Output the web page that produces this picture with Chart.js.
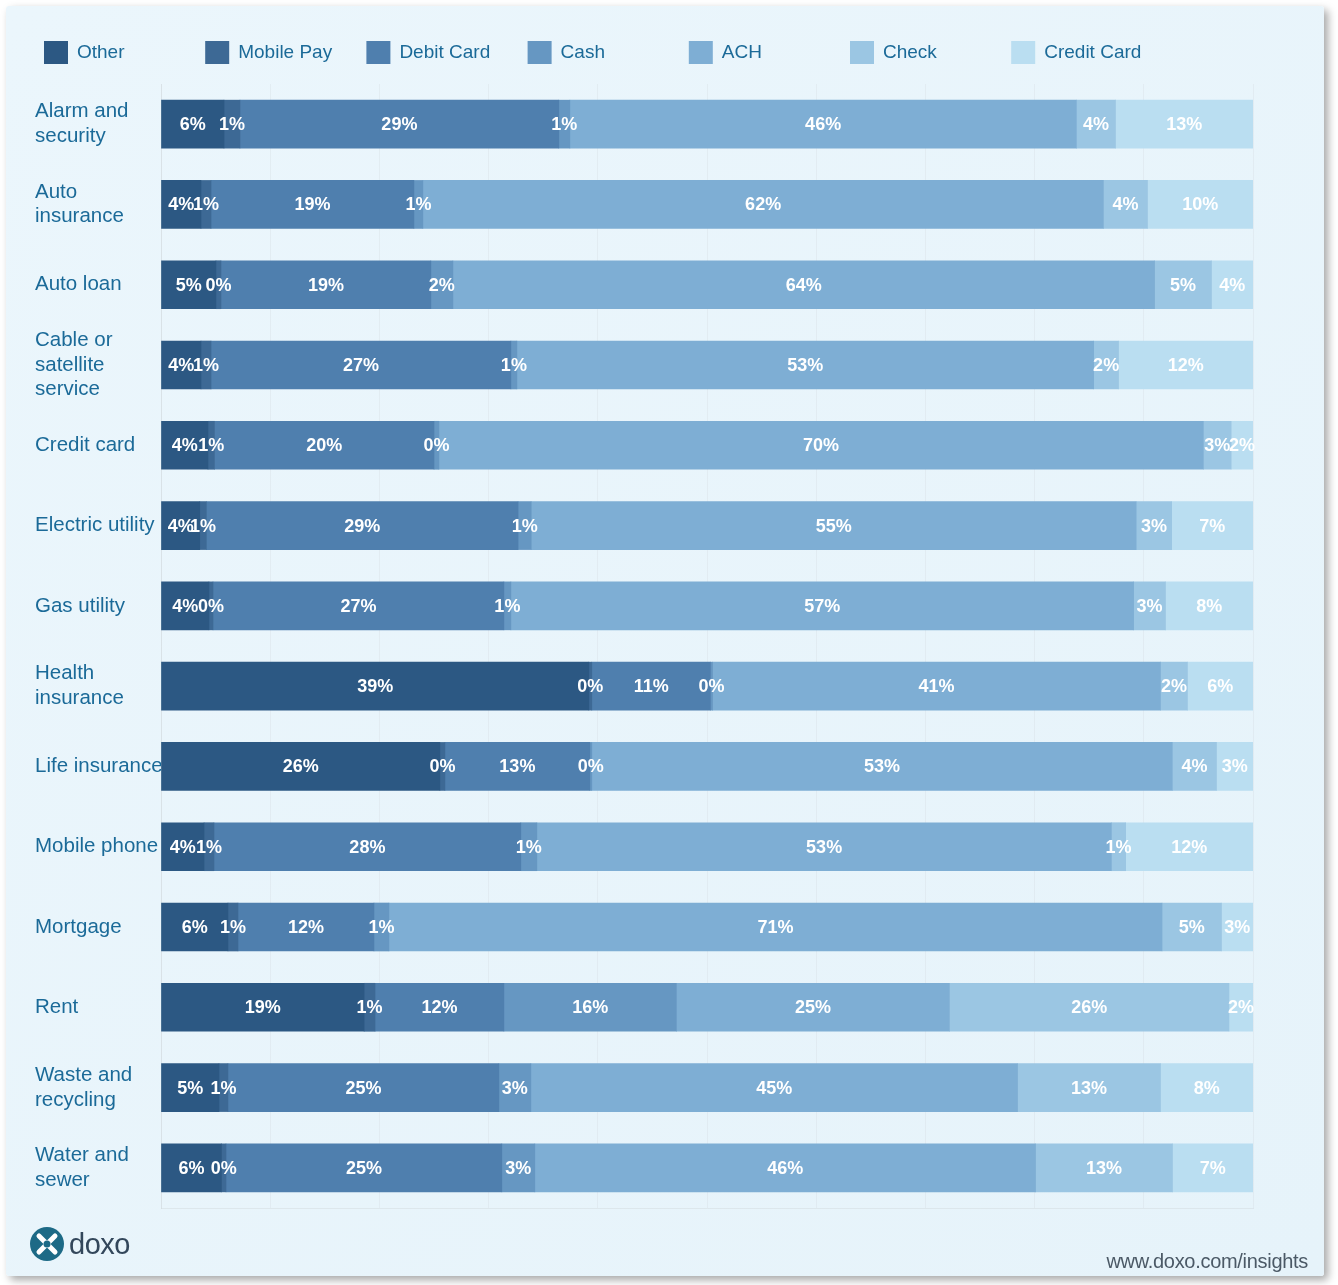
<!DOCTYPE html>
<html>
<head>
<meta charset="utf-8">
<script src="https://cdn.jsdelivr.net/npm/chart.js@4/dist/chart.umd.min.js"></script>
<style>
  body { margin: 0; background: #fff; width: 1338px; height: 1285px; overflow: hidden; position: relative; font-family: 'Liberation Sans', Arial, sans-serif; }
  .panel { position: absolute; left: 6px; top: 6px; width: 1318px; height: 1270px; border-radius: 3px;
           background: linear-gradient(135deg, #ebf6fc, #e6f3fa); box-shadow: 4px 4px 9px rgba(0,0,0,0.35); }
  #chart { position: absolute; left: 0; top: 0; }
  .logo { position: absolute; left: 30px; top: 1227px; display: flex; align-items: center; }
  .logo span { font-size: 29px; color: #33475b; margin-left: 5px; letter-spacing: -0.5px; }
  .url { position: absolute; right: 30px; top: 1250px; font-size: 20px; color: #4b5966; letter-spacing: -0.3px; }
</style>
</head>
<body>
<div class="panel"></div>
<canvas id="chart" width="1338" height="1285"></canvas>
<div class="logo">
  <svg width="34" height="34" viewBox="0 0 34 34">
    <circle cx="17" cy="17" r="17" fill="#1d6a86"/>
    <path d="M9 9 L25 25 M25 9 L9 25" stroke="#fff" stroke-width="5" stroke-linecap="round"/>
    <circle cx="17" cy="17" r="3.5" fill="#1d6a86"/>
  </svg>
  <span>doxo</span>
</div>
<div class="url">www.doxo.com/insights</div>
<script>
const categories = [
  ['Alarm and', 'security'], ['Auto', 'insurance'], 'Auto loan', ['Cable or', 'satellite', 'service'],
  'Credit card', 'Electric utility', 'Gas utility', ['Health', 'insurance'], 'Life insurance',
  'Mobile phone', 'Mortgage', 'Rent', ['Waste and', 'recycling'], ['Water and', 'sewer'],
];

// share of payments (%) per bill type
const other      = [5.77, 3.66, 5.03, 3.66, 4.3, 3.55, 4.39, 39.18, 25.54, 3.94, 6.13, 18.6, 5.31, 5.55];
const mobilePay  = [1.46, 0.92, 0.46, 0.92, 0.6, 0.6, 0.37, 0.27, 0.46, 0.91, 0.92, 1.0, 0.82, 0.4];
const debitCard  = [29.2, 18.58, 19.22, 27.46, 20.1, 28.55, 26.64, 10.87, 13.27, 28.1, 12.45, 11.8, 24.81, 25.26];
const cash       = [1.01, 0.82, 2.02, 0.55, 0.45, 1.2, 0.64, 0.19, 0.18, 1.47, 1.37, 15.8, 2.93, 3.02];
const ach        = [46.39, 62.32, 64.26, 52.82, 70.0, 55.4, 57.03, 41.02, 53.16, 52.61, 70.8, 25.0, 44.57, 45.86];
const check      = [3.58, 4.04, 5.21, 2.28, 2.55, 3.25, 2.92, 2.47, 4.05, 1.31, 5.45, 25.6, 13.09, 12.54];
const creditCard = [12.59, 9.66, 3.8, 12.31, 2.0, 7.45, 8.01, 6.0, 3.34, 11.66, 2.88, 2.2, 8.47, 7.37];

const seriesNames = ['Other', 'Mobile Pay', 'Debit Card', 'Cash', 'ACH', 'Check', 'Credit Card'];
const seriesData = [other, mobilePay, debitCard, cash, ach, check, creditCard];
const colors = ['#2c5883', '#3d6995', '#4f7fae', '#6697c2', '#7eaed4', '#9bc6e3', '#badef1'];

Chart.defaults.font.family = "'Liberation Sans', Arial, sans-serif";

// legend row with fixed spacing
const legendRow = {
  id: 'legendRow',
  afterDraw(chart) {
    const c = chart.ctx;
    c.save();
    c.font = '19px "Liberation Sans", Arial, sans-serif';
    c.textBaseline = 'middle';
    chart.data.datasets.forEach((ds, i) => {
      const x = 44 + i * 161.2;
      c.fillStyle = ds.backgroundColor;
      c.fillRect(x, 41, 24, 23);
      c.fillStyle = '#1b6a98';
      c.fillText(ds.label, x + 33, 53);
    });
    c.restore();
  }
};

// percent labels in the middle of each segment
const segmentLabels = {
  id: 'segmentLabels',
  afterDatasetsDraw(chart) {
    const c = chart.ctx;
    c.save();
    c.font = 'bold 18px "Liberation Sans", Arial, sans-serif';
    c.fillStyle = '#ffffff';
    c.textAlign = 'center';
    c.textBaseline = 'middle';
    chart.data.datasets.forEach((ds, di) => {
      chart.getDatasetMeta(di).data.forEach((bar, i) => {
        const cx = (bar.x + bar.base) / 2;
        c.fillText(Math.round(ds.data[i]) + '%', cx, bar.y + 1);
      });
    });
    c.restore();
  }
};

new Chart(document.getElementById('chart'), {
  type: 'bar',
  data: {
    labels: categories,
    datasets: seriesNames.map((name, i) => ({
      label: name,
      data: seriesData[i],
      backgroundColor: colors[i],
      borderWidth: 0,
      barThickness: 48,
    })),
  },
  options: {
    indexAxis: 'y',
    responsive: false,
    animation: false,
    layout: { padding: { left: 35, top: 84, right: 85, bottom: 77 } },
    plugins: {
      legend: { display: false },
      tooltip: { enabled: false },
    },
    scales: {
      x: {
        stacked: true,
        min: 0,
        max: 100,
        ticks: { display: false, stepSize: 10 },
        grid: { color: 'rgba(200,205,210,0.22)', drawTicks: false },
        border: { display: true, color: 'rgba(200,205,210,0.35)' },
        afterFit(scale) { scale.height = 0; },
      },
      y: {
        stacked: true,
        grid: { display: false },
        border: { display: true, color: 'rgba(200,205,210,0.35)', dash: [3, 3] },
        ticks: {
          crossAlign: 'far',
          color: '#1b6a98',
          font: { size: 20.5, lineHeight: 1.2 },
          padding: 0,
          autoSkip: false,
        },
        afterFit(scale) { scale.width = 126; },
      },
    },
  },
  plugins: [legendRow, segmentLabels],
});
</script>
</body>
</html>
